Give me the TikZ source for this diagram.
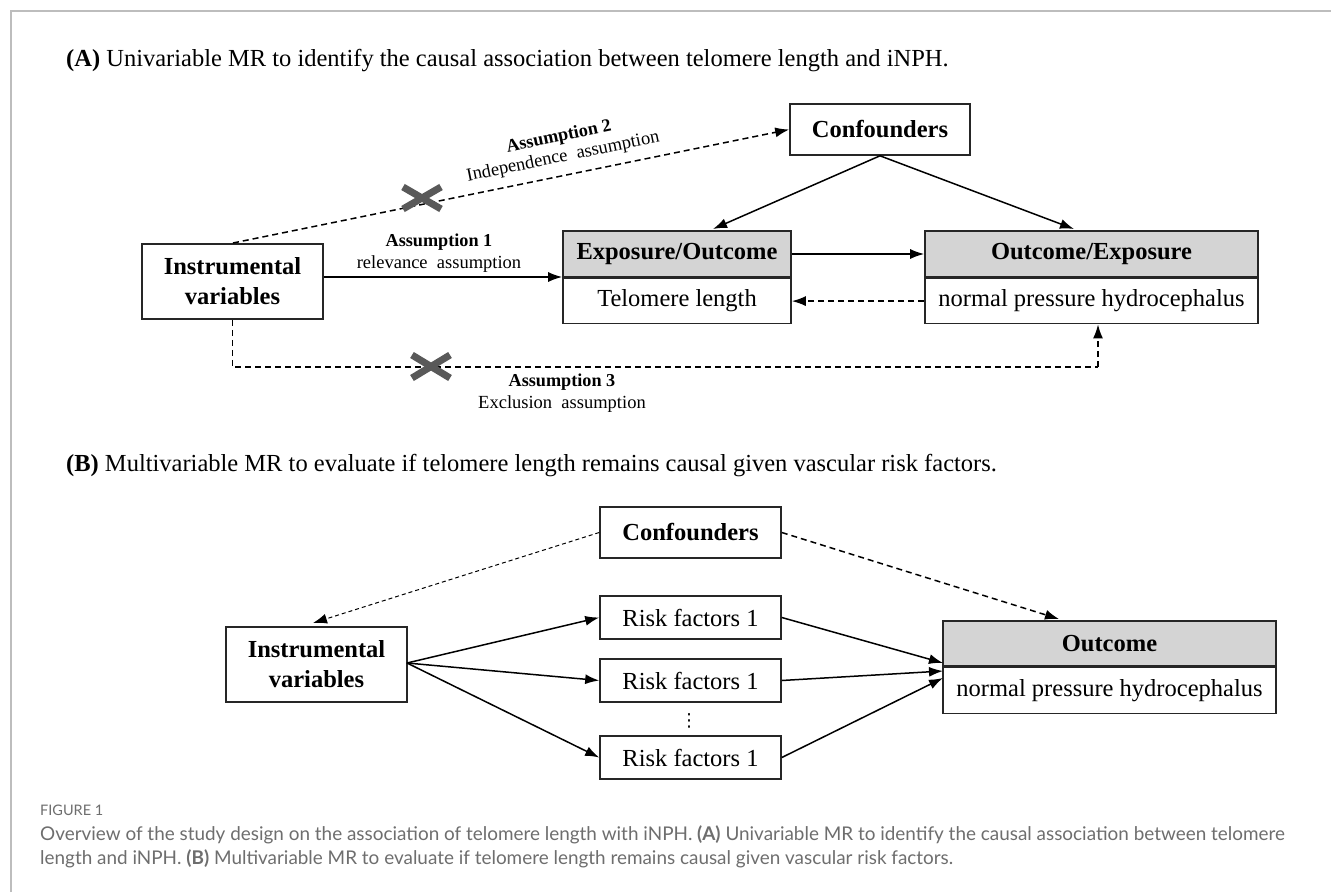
\documentclass[tikz,border=0pt]{standalone}
\usepackage{fontspec}
\setmainfont{Liberation Serif}
\newfontfamily\capfont{Lato}
\newfontfamily\dotsfont{DejaVu Sans}
\usetikzlibrary{arrows.meta}
\definecolor{hdrgray}{HTML}{D4D4D4}
\definecolor{xgray}{HTML}{595959}
\definecolor{capgray}{HTML}{6E6E6E}
\definecolor{framegray}{HTML}{BDBDBD}
\tikzset{
  bx/.style={draw=black!85, line width=1.6pt, inner sep=0pt, align=center, font=\fontsize{24.5}{30}\selectfont},
  bxb/.style={bx, font=\fontsize{24.5}{30}\selectfont\bfseries},
  hdr/.style={bx, fill=hdrgray, font=\fontsize{24.5}{30}\selectfont\bfseries},
  conn/.style={line width=1.5pt, -{Latex[length=14pt,width=10pt]}},
  dconn/.style={conn, dash pattern=on 6pt off 4pt},
  tconn/.style={line width=1pt, dash pattern=on 4pt off 3pt, -{Latex[length=14pt,width=10pt]}},
  dline/.style={line width=1.5pt, dash pattern=on 6pt off 4pt},
  xmark/.style={line width=7pt, xgray},
  lblb/.style={font=\fontsize{18.2}{21}\selectfont\bfseries, inner sep=0pt},
  lbl/.style={font=\fontsize{18.5}{21}\selectfont, inner sep=0pt},
  lbl2/.style={font=\fontsize{18.5}{20.5}\selectfont, inner sep=0pt, align=center},
  ttl/.style={font=\fontsize{24.5}{28}\selectfont, inner sep=0pt, anchor=west},
  captxt/.style={font=\capfont\fontsize{18.9}{22}\selectfont, text=capgray, inner sep=0pt, anchor=west},
}
\begin{document}
\begin{tikzpicture}[x=1pt,y=-1pt]
\useasboundingbox (0,0) rectangle (1331,892);
\fill[white] (0,0) rectangle (1331,892);
% frame
\draw[framegray, line width=2pt] (11,892) -- (11,11) -- (1331,11);

% ---------- Part A ----------
\node[ttl] (tA) at (66,61) {\textbf{(A)} Univariable MR to identify the causal association between telomere length and iNPH.};

\node[bxb, minimum width=180pt, minimum height=51pt] (confA) at (880,129.5) {Confounders};
\node[bxb, minimum width=181pt, minimum height=75pt] (ivA) at (232.5,281.5) {Instrumental\\variables};
\node[hdr, minimum width=228pt, minimum height=46pt] (expH) at (677,254) {Exposure/Outcome};
\node[bx, minimum width=228pt, minimum height=45pt, anchor=north] (expB) at (expH.south) {Telomere length};
\node[hdr, minimum width=333pt, minimum height=46pt] (outH) at (1091.5,254) {Outcome/Exposure};
\node[bx, minimum width=333pt, minimum height=45pt, anchor=north] (outB) at (outH.south) {normal pressure hydrocephalus};

\coordinate (eTop) at (713,229);
\coordinate (oTop) at (1074,229);
\draw[conn] (confA.south) -- (eTop);
\draw[conn] (confA.south) -- (oTop);
\draw[conn] (expH.east) -- (outH.west);
\draw[dconn] (outB.west) -- (expB.east);
\draw[conn] (ivA.east |- 0,277) -- (expH.west |- 0,277);

\coordinate (ivTop) at (233,243);
\draw[dconn] (ivTop) -- (confA.west)
  node[pos=0.6, sloped, above=9pt, lbl2] (a2) {{\bfseries\fontsize{18.2}{20.5}\selectfont Assumption 2}\\Independence\ \ assumption};
\draw[xmark] (403,187) -- (441,209);
\draw[xmark] (403,209) -- (441,187);

\node[lblb] (a1) at (439,242) {Assumption 1};
\node[lbl] (a1b) at (439,264) {relevance\ \ assumption};

\coordinate (b1) at (232.5,367);
\coordinate (b2) at (1098,367);
\draw[dline] (ivA.south) -- (b1) -- (b2);
\draw[dconn] (b2) -- (outB.south -| b2);
\draw[xmark] (412,355) -- (450,378);
\draw[xmark] (412,378) -- (450,355);
\node[lblb] (a3) at (562,382) {Assumption 3};
\node[lbl] (a3b) at (562,404) {Exclusion\ \ assumption};

% ---------- Part B ----------
\node[ttl] (tB) at (66,466) {\textbf{(B)} Multivariable MR to evaluate if telomere length remains causal given vascular risk factors.};

\node[bxb, minimum width=181pt, minimum height=51pt] (confB) at (690.5,532.5) {Confounders};
\node[bxb, minimum width=181pt, minimum height=75pt] (ivB) at (316.5,664.5) {Instrumental\\variables};
\node[bx, minimum width=181pt, minimum height=43pt] (rf1) at (690.5,617.5) {Risk factors 1};
\node[bx, minimum width=181pt, minimum height=43pt] (rf2) at (690.5,680.5) {Risk factors 1};
\node[bx, minimum width=181pt, minimum height=43pt] (rf3) at (690.5,757.5) {Risk factors 1};
\node[inner sep=0pt, font=\dotsfont\fontsize{18}{20}\selectfont] (dots) at (689,721) {⋮};
\node[hdr, minimum width=333pt, minimum height=45pt] (oBH) at (1109.5,643.5) {Outcome};
\node[bx, minimum width=333pt, minimum height=46pt, anchor=north] (oBB) at (oBH.south) {normal pressure hydrocephalus};

\coordinate (ivBr) at (407,663);
\draw[conn] (ivBr) -- (rf1.west);
\draw[conn] (ivBr) -- (rf2.west);
\draw[conn] (ivBr) -- (rf3.west);
\coordinate (in1) at (943,663);
\coordinate (in2) at (943,671);
\coordinate (in3) at (943,678);
\draw[conn] (rf1.east) -- (in1);
\draw[conn] (rf2.east) -- (in2);
\draw[conn] (rf3.east) -- (in3);
\coordinate (ivBtop) at (313,623);
\draw[tconn] (confB.west) -- (ivBtop);
\coordinate (oBtop) at (1059,619);
\draw[dconn] (confB.east) -- (oBtop);

% ---------- caption ----------
\node[captxt, font=\capfont\fontsize{14.5}{16}\selectfont] (fig) at (40,810) {FIGURE 1};
\node[captxt] (cap1) at (40,835) {Overview of the study design on the association of telomere length with iNPH. \textbf{(A)} Univariable MR to identify the causal association between telomere};
\node[captxt] (cap2) at (40,859) {length and iNPH. \textbf{(B)} Multivariable MR to evaluate if telomere length remains causal given vascular risk factors.};
\end{tikzpicture}
\end{document}
